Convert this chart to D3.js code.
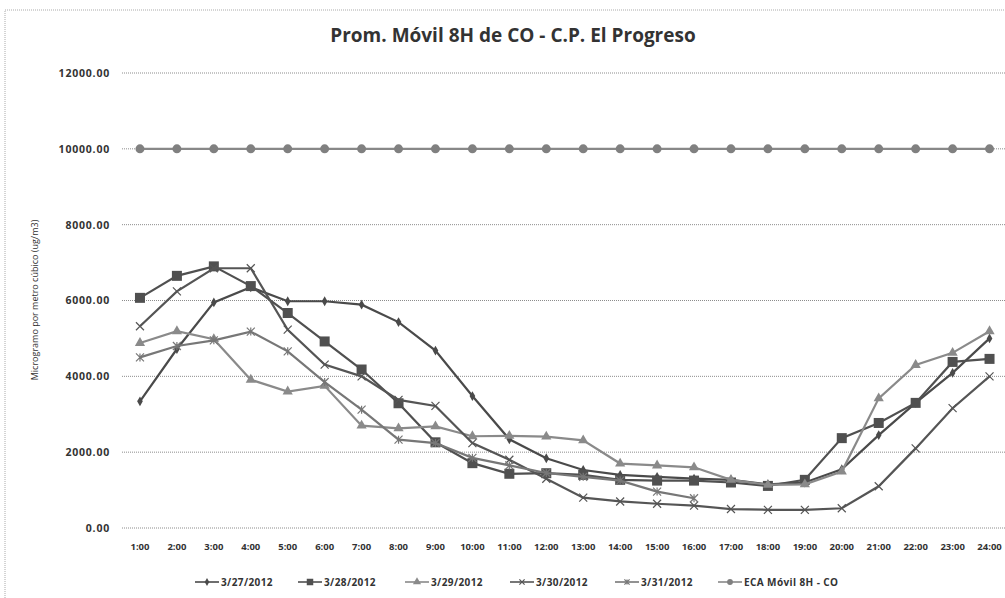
<!DOCTYPE html>
<html lang="es">
<head>
<meta charset="utf-8">
<title>Prom. Móvil 8H de CO - C.P. El Progreso</title>
<script src="https://cdn.jsdelivr.net/npm/d3@7"></script>
<style>
  body { margin: 0; background: #fff; }
  svg text { font-family: "Open Sans", "Liberation Sans", sans-serif; fill: #333; }
</style>
</head>
<body>
<svg id="chart" width="1005" height="598"></svg>
<script>
// horas del día
var hours = ["1:00","2:00","3:00","4:00","5:00","6:00","7:00","8:00","9:00","10:00","11:00","12:00",
             "13:00","14:00","15:00","16:00","17:00","18:00","19:00","20:00","21:00","22:00","23:00","24:00"];
var yTicks = [0, 2000, 4000, 6000, 8000, 10000, 12000];

// valores (ug/m3)
var d0327 = [3340,4720,5950,6350,5980,5980,5890,5430,4680,3480,2340,1840,1530,1400,1350,1300,1270,1150,1200,1550,2450,3300,4090,5000];
var d0328 = [6070,6650,6900,6380,5670,4920,4180,3290,2260,1710,1430,1445,1400,1270,1250,1250,1200,1110,1270,2370,2770,3300,4380,4460];
var d0329 = [4880,5190,4980,3910,3600,3750,2700,2630,2680,2420,2430,2410,2310,1700,1650,1600,1270,1140,1150,1490,3420,4300,4620,5190];
var d0330 = [5320,6240,6850,6850,5230,4310,4000,3380,3220,2240,1800,1300,800,700,640,590,500,480,480,520,1100,2100,3160,4000];
var d0331 = [4500,4800,4950,5180,4660,3850,3120,2330,2240,1850,1650,1450,1350,1250,960,785,null,null,null,null,null,null,null,null];
var eca   = [10000,10000,10000,10000,10000,10000,10000,10000,10000,10000,10000,10000,
             10000,10000,10000,10000,10000,10000,10000,10000,10000,10000,10000,10000];

var series = [
  {name: "3/27/2012", values: d0327, color: "#4a4a4a", marker: "diamond"},
  {name: "3/28/2012", values: d0328, color: "#505050", marker: "square"},
  {name: "3/29/2012", values: d0329, color: "#8a8a8a", marker: "triangle"},
  {name: "3/30/2012", values: d0330, color: "#555555", marker: "x"},
  {name: "3/31/2012", values: d0331, color: "#777777", marker: "star"},
  {name: "ECA Móvil 8H - CO", values: eca, color: "#888888", marker: "circle"}
];

var svg = d3.select("#chart");

// marco exterior punteado
svg.append("rect")
  .attr("x", 5).attr("y", 10).attr("width", 1010).attr("height", 600)
  .attr("fill", "none").attr("stroke", "#aaa").attr("stroke-dasharray", "1,1");

var x = d3.scaleBand().domain(hours).range([121.5, 1008]);
var y = d3.scaleLinear().domain([0, 12000]).range([528, 73]);
var cx = function(h) { return x(h) + x.bandwidth() / 2; };

// líneas de cuadrícula
svg.append("g").selectAll("line").data(yTicks).join("line")
  .attr("x1", 122).attr("x2", 1005)
  .attr("y1", d => y(d)).attr("y2", d => y(d))
  .attr("stroke", "#8c8c8c").attr("stroke-width", 1).attr("stroke-dasharray", "1,1");

// eje Y
var yAxis = svg.append("g").attr("transform", "translate(116,0)")
  .call(d3.axisLeft(y).tickValues(yTicks).tickFormat(d3.format(".2f")).tickSize(0).tickPadding(6));
yAxis.select(".domain").remove();
yAxis.selectAll("text").attr("font-size", 10.5).attr("font-weight", "bold").attr("fill", "#444")
  .attr("letter-spacing", 0.8);

// eje X
var xAxis = svg.append("g").attr("transform", "translate(0,540)")
  .call(d3.axisBottom(x).tickSize(0).tickPadding(3));
xAxis.select(".domain").remove();
xAxis.selectAll("text").attr("font-size", 9.5).attr("font-weight", "bold").attr("fill", "#444");

// títulos
svg.append("text").attr("x", 513).attr("y", 42).attr("text-anchor", "middle")
  .attr("font-size", 19).attr("font-weight", "bold").attr("fill", "#222")
  .text("Prom. Móvil 8H de CO - C.P. El Progreso");

svg.append("text").attr("transform", "translate(38,300) rotate(-90)")
  .attr("text-anchor", "middle").attr("font-size", 9).attr("fill", "#444")
  .text("Microgramo por metro cúbico (ug/m3)");

function drawMarker(g, type, px, py, color, s) {
  if (type === "diamond") {
    g.append("path").attr("d", d3.symbol(d3.symbolDiamond, 28 * s)()).attr("transform", `translate(${px},${py})`)
      .attr("fill", color);
  } else if (type === "square") {
    g.append("rect").attr("x", px - 5 * s).attr("y", py - 5 * s).attr("width", 10 * s).attr("height", 10 * s)
      .attr("fill", color);
  } else if (type === "triangle") {
    g.append("path").attr("d", d3.symbol(d3.symbolTriangle, 45 * s)()).attr("transform", `translate(${px},${py})`)
      .attr("fill", color);
  } else if (type === "x" || type === "star") {
    var r = 4 * s;
    g.append("path").attr("d", `M${px - r},${py - r}L${px + r},${py + r}M${px - r},${py + r}L${px + r},${py - r}` +
        (type === "star" ? `M${px},${py - r}L${px},${py + r}` : ""))
      .attr("stroke", color).attr("stroke-width", 1.2).attr("fill", "none");
  } else if (type === "circle") {
    g.append("circle").attr("cx", px).attr("cy", py).attr("r", 4.5 * s).attr("fill", "#808080");
  }
}

var line = d3.line().defined(d => d.v != null).x(d => cx(d.h)).y(d => y(d.v));

series.forEach(function(s) {
  var pts = hours.map((h, i) => ({h: h, v: s.values[i]}));
  var g = svg.append("g");
  g.append("path").datum(pts).attr("d", line)
    .attr("fill", "none").attr("stroke", s.color).attr("stroke-width", 2.2);
  pts.filter(d => d.v != null).forEach(function(d) {
    drawMarker(g, s.marker, cx(d.h), y(d.v), s.color, 1);
  });
});

// leyenda
var legX = [195, 298, 405, 510, 615, 718];
series.forEach(function(s, i) {
  var g = svg.append("g");
  var lx = legX[i], ly = 582;
  g.append("line").attr("x1", lx).attr("x2", lx + 24).attr("y1", ly).attr("y2", ly)
    .attr("stroke", s.color).attr("stroke-width", 1.6);
  drawMarker(g, s.marker, lx + 12, ly, s.color, 0.65);
  g.append("text").attr("x", lx + 26).attr("y", ly + 3.5).attr("font-size", 10).attr("font-weight", "bold")
    .attr("fill", "#444").attr("letter-spacing", 0.4).text(s.name);
});
</script>
</body>
</html>
